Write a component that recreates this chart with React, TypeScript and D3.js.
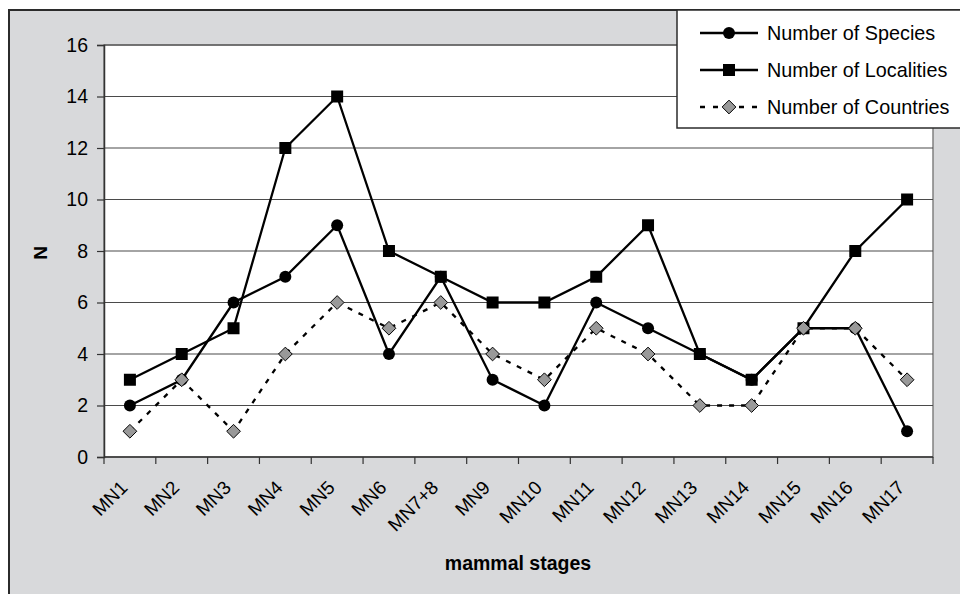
import React, { useRef, useEffect } from "react";
import * as d3 from "d3";

const stages = ["MN1", "MN2", "MN3", "MN4", "MN5", "MN6", "MN7+8", "MN9", "MN10", "MN11", "MN12", "MN13", "MN14", "MN15", "MN16", "MN17"];
const species = [2, 3, 6, 7, 9, 4, 7, 3, 2, 6, 5, 4, 3, 5, 5, 1];
const localities = [3, 4, 5, 12, 14, 8, 7, 6, 6, 7, 9, 4, 3, 5, 8, 10];
const countries = [1, 3, 1, 4, 6, 5, 6, 4, 3, 5, 4, 2, 2, 5, 5, 3];
const yTicks = [0, 2, 4, 6, 8, 10, 12, 14, 16];

const FONT = "'Liberation Sans', Arial, sans-serif";

const App: React.FC = () => {
  const ref = useRef<SVGSVGElement>(null);

  useEffect(() => {
    const svg = d3.select(ref.current);
    svg.selectAll("*").remove();

    const width = 960,
      height = 594,
      margin = { top: 45, right: 27, bottom: 137, left: 104 };

    // frame
    svg
      .append("rect")
      .attr("x", 9)
      .attr("y", 10)
      .attr("width", width + 20)
      .attr("height", height + 20)
      .attr("fill", "#d8d9db")
      .attr("stroke", "#2b2b2b")
      .attr("stroke-width", 2);

    const x = d3
      .scaleBand<string>()
      .domain(stages)
      .range([margin.left, width - margin.right]);

    const y = d3
      .scaleLinear()
      .domain([0, 16])
      .range([height - margin.bottom, margin.top]);

    const cx = (i: number) => x(stages[i])! + x.bandwidth() / 2;

    // plot area
    svg
      .append("rect")
      .attr("x", margin.left)
      .attr("y", margin.top)
      .attr("width", width - margin.left - margin.right)
      .attr("height", height - margin.top - margin.bottom)
      .attr("fill", "#fff")
      .attr("stroke", "#808080")
      .attr("stroke-width", 1.5);

    // grid
    svg
      .append("g")
      .selectAll("line")
      .data(yTicks.filter((d) => d > 0))
      .enter()
      .append("line")
      .attr("x1", margin.left)
      .attr("x2", width - margin.right)
      .attr("y1", (d) => y(d))
      .attr("y2", (d) => y(d))
      .attr("stroke", "#4a4a4a")
      .attr("stroke-width", 1.2);

    // Y axis
    const yAxis = svg
      .append("g")
      .attr("transform", `translate(${margin.left},0)`)
      .call(d3.axisLeft(y).tickValues(yTicks).tickSize(7).tickPadding(9));
    yAxis.select(".domain").attr("stroke", "#333").attr("stroke-width", 1.5);
    yAxis.selectAll(".tick line").attr("stroke", "#333").attr("stroke-width", 1.2);
    yAxis
      .selectAll("text")
      .attr("fill", "#000")
      .style("font-family", FONT)
      .style("font-size", "19.5px");

    // X axis with ticks on category boundaries
    const xAxis = svg
      .append("g")
      .attr("transform", `translate(0,${height - margin.bottom})`);
    xAxis
      .append("line")
      .attr("x1", margin.left)
      .attr("x2", width - margin.right)
      .attr("stroke", "#333")
      .attr("stroke-width", 1.5);
    xAxis
      .selectAll("line.tk")
      .data(d3.range(stages.length + 1))
      .enter()
      .append("line")
      .attr("class", "tk")
      .attr("x1", (i) => margin.left + i * x.step())
      .attr("x2", (i) => margin.left + i * x.step())
      .attr("y1", 0)
      .attr("y2", 7)
      .attr("stroke", "#333")
      .attr("stroke-width", 1.2);
    xAxis
      .selectAll("text")
      .data(stages)
      .enter()
      .append("text")
      .attr("transform", (_, i) => `translate(${cx(i) - 6},${27}) rotate(-45)`)
      .attr("text-anchor", "end")
      .attr("dy", "0.35em")
      .style("font-family", FONT)
      .style("font-size", "19px")
      .text((d) => d);

    // series
    const line = d3
      .line<number>()
      .x((_, i) => cx(i))
      .y((d) => y(d));

    svg
      .append("path")
      .datum(species)
      .attr("fill", "none")
      .attr("stroke", "#000")
      .attr("stroke-width", 2.3)
      .attr("d", line);
    svg
      .append("g")
      .selectAll("circle")
      .data(species)
      .enter()
      .append("circle")
      .attr("cx", (_, i) => cx(i))
      .attr("cy", (d) => y(d))
      .attr("r", 6)
      .attr("fill", "#000");

    svg
      .append("path")
      .datum(localities)
      .attr("fill", "none")
      .attr("stroke", "#000")
      .attr("stroke-width", 2.3)
      .attr("d", line);
    svg
      .append("g")
      .selectAll("rect")
      .data(localities)
      .enter()
      .append("rect")
      .attr("x", (_, i) => cx(i) - 6)
      .attr("y", (d) => y(d) - 6)
      .attr("width", 12)
      .attr("height", 12)
      .attr("fill", "#000");

    const diamond = d3.symbol().type(d3.symbolDiamond2).size(120);

    svg
      .append("path")
      .datum(countries)
      .attr("fill", "none")
      .attr("stroke", "#000")
      .attr("stroke-width", 2.3)
      .attr("stroke-dasharray", "5,7")
      .attr("d", line);
    svg
      .append("g")
      .selectAll("path")
      .data(countries)
      .enter()
      .append("path")
      .attr("transform", (d, i) => `translate(${cx(i)},${y(d)})`)
      .attr("d", diamond)
      .attr("fill", "#999")
      .attr("stroke", "#000")
      .attr("stroke-width", 1);

    // axis titles
    svg
      .append("text")
      .attr("transform", `translate(40,253) rotate(-90)`)
      .attr("text-anchor", "middle")
      .attr("dy", "0.35em")
      .style("font-family", FONT)
      .style("font-size", "19px")
      .style("font-weight", "bold")
      .text("N");

    svg
      .append("text")
      .attr("x", 518)
      .attr("y", 570)
      .attr("text-anchor", "middle")
      .style("font-family", FONT)
      .style("font-size", "19.5px")
      .style("font-weight", "bold")
      .text("mammal stages");

    // legend
    const legend = svg.append("g");
    legend
      .append("rect")
      .attr("x", 677)
      .attr("y", 10)
      .attr("width", 320)
      .attr("height", 118)
      .attr("fill", "#fff")
      .attr("stroke", "#2b2b2b")
      .attr("stroke-width", 1.5);

    const items = [
      { label: "Number of Species", kind: "circle", y: 33 },
      { label: "Number of Localities", kind: "square", y: 70 },
      { label: "Number of Countries", kind: "diamond", y: 107 },
    ];
    items.forEach((it) => {
      const g = legend.append("g").attr("transform", `translate(0,${it.y})`);
      g.append("line")
        .attr("x1", 700)
        .attr("x2", 758)
        .attr("stroke", "#000")
        .attr("stroke-width", 2.3)
        .attr("stroke-dasharray", it.kind === "diamond" ? "5,8" : null);
      if (it.kind === "circle") {
        g.append("circle").attr("cx", 729).attr("r", 6).attr("fill", "#000");
      } else if (it.kind === "square") {
        g.append("rect").attr("x", 723).attr("y", -6).attr("width", 12).attr("height", 12).attr("fill", "#000");
      } else {
        g.append("path")
          .attr("transform", "translate(729,0)")
          .attr("d", diamond)
          .attr("fill", "#999")
          .attr("stroke", "#000")
          .attr("stroke-width", 1);
      }
      g.append("text")
        .attr("x", 767)
        .attr("dy", "0.35em")
        .style("font-family", FONT)
        .style("font-size", "19.8px")
        .text(it.label);
    });
  }, []);

  return (
    <svg
      ref={ref}
      width={960}
      height={594}
      style={{ position: "absolute", left: 0, top: 0 }}
    />
  );
};

export default App;
